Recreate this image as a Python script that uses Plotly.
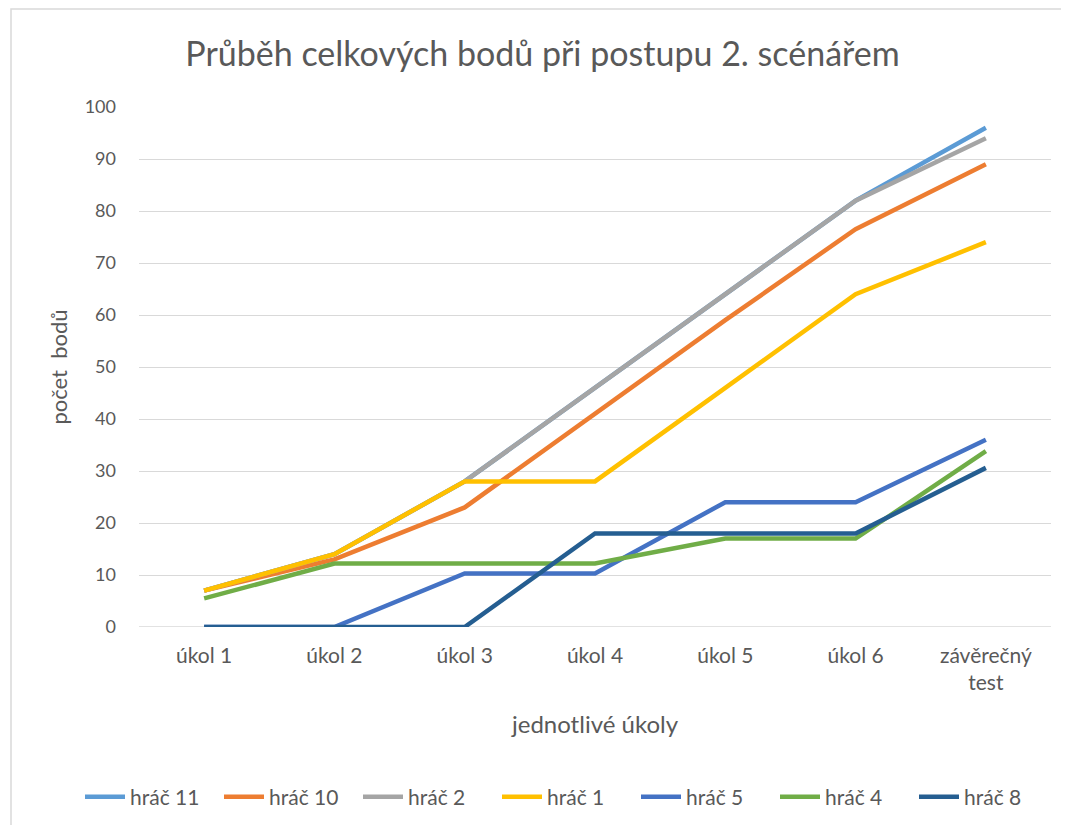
import plotly.graph_objects as go

categories = ["úkol 1", "úkol 2", "úkol 3", "úkol 4", "úkol 5", "úkol 6", "závěrečný<br>test"]
series_names = ["hráč 11", "hráč 10", "hráč 2", "hráč 1", "hráč 5", "hráč 4", "hráč 8"]
hrac_11 = [7, 14, 28, 46, 64, 82, 96]
hrac_10 = [7, 13, 23, 41, 59, 76.5, 89]
hrac_2 = [7, 14, 28, 46, 64, 82, 94]
hrac_1 = [7, 14, 28, 28, 46, 64, 74]
hrac_5 = [0, 0, 10.3, 10.3, 24, 24, 36]
hrac_4 = [5.5, 12.2, 12.2, 12.2, 17, 17, 33.8]
hrac_8 = [0, 0, 0, 18, 18, 18, 30.6]
series_values = [hrac_11, hrac_10, hrac_2, hrac_1, hrac_5, hrac_4, hrac_8]
colors = ["#5B9BD5", "#ED7D31", "#A5A5A5", "#FFC000", "#4472C4", "#70AD47", "#255E91"]
y_ticks = list(range(0, 101, 10))

FONT = "Lato"
TXT = "#595959"

fig = go.Figure()
for name, vals, col in zip(series_names, series_values, colors):
    fig.add_trace(go.Scatter(
        x=categories, y=vals, name=name, mode="lines",
        line=dict(color=col, width=4.5),
    ))

fig.update_layout(
    width=1069, height=825,
    paper_bgcolor="white", plot_bgcolor="white",
    margin=dict(l=131, r=26, t=99, b=206),
    title=dict(text="Průběh celkových bodů při postupu 2. scénářem",
               x=0.5, xanchor="center", y=1 - 46 / 825, yanchor="middle",
               font=dict(family=FONT, size=34, color=TXT)),
    font=dict(family=FONT, color=TXT),
    showlegend=True,
    legend=dict(orientation="h", x=(80 - 139) / 912, xanchor="left", y=-0.327, yanchor="middle",
                font=dict(family=FONT, size=21, color=TXT), itemwidth=40,
                entrywidth=84, entrywidthmode="pixels",
                traceorder="normal"),
    xaxis=dict(type="category", range=[-0.5, 6.5], showgrid=False, zeroline=False,
               showline=False, ticks="", tickfont=dict(family=FONT, size=21, color=TXT),
               ticklabelstandoff=14, automargin=False,
               title=dict(text="jednotlivé úkoly", font=dict(family=FONT, size=24, color=TXT),
                          standoff=22)),
    yaxis=dict(range=[0, 100], tickvals=y_ticks, showgrid=True, gridcolor="#D9D9D9",
               gridwidth=1.3, zeroline=False, showline=False, ticks="",
               tickfont=dict(family=FONT, size=18, color=TXT), ticklabelstandoff=22,
               automargin=False,
               title=dict(text="počet  bodů", font=dict(family=FONT, size=22, color=TXT),
                          standoff=10)),
)
fig.add_shape(type="line", xref="paper", yref="y", x0=0, x1=1, y0=0, y1=0,
              line=dict(color="#D9D9D9", width=1.3), layer="below")
fig.add_shape(type="rect", xref="paper", yref="paper",
              x0=(11 - 139) / 912, x1=(1090 - 139) / 912,
              y0=(627 - 850) / 520, y1=(627 - 9) / 520,
              line=dict(color="#D9D9D9", width=1.5), fillcolor="rgba(0,0,0,0)", layer="below")

fig.write_html("out.html")
